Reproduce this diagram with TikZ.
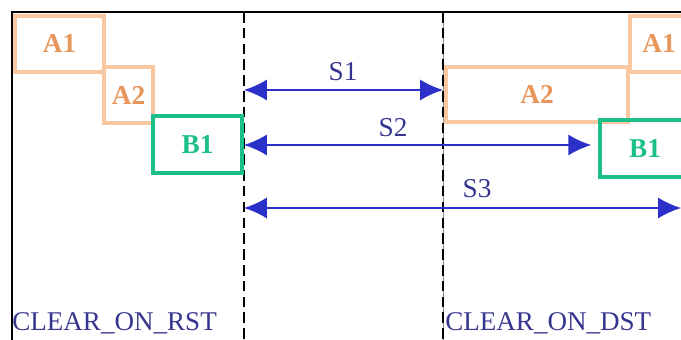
\documentclass[tikz,border=0pt]{standalone}
\usepackage{fontspec}
\setmainfont{Liberation Serif}
\usetikzlibrary{arrows.meta}

\definecolor{peach}{HTML}{F9C8A0}
\definecolor{peachtext}{HTML}{E8955A}
\definecolor{regreen}{HTML}{1CBF8C}
\definecolor{arrowblue}{HTML}{2B30C8}
\definecolor{labelblue}{HTML}{35358F}

\begin{document}
\begin{tikzpicture}[x = 0.02cm, y = -0.02cm,
  abox/.style = {draw = peach, line width = 2pt, text = peachtext,
    font = \bfseries\fontsize{15.5}{16}\selectfont, inner sep = 0pt, minimum height = 1.12cm},
  bbox/.style = {abox, draw = regreen, text = regreen, minimum height = 1.14cm},
  sarrow/.style = {arrowblue, line width = 1pt,
    {Latex[length = 13pt, width = 12pt]}-{Latex[length = 13pt, width = 12pt]}},
  slabel/.style = {text = labelblue, font = \fontsize{15.5}{16}\selectfont, inner sep = 0pt},
  clrlabel/.style = {text = labelblue, font = \fontsize{15.4}{16}\selectfont, inner sep = 0pt,
    anchor = base west},
  border/.style = {line width = 1pt, dash pattern = on 6pt off 3pt}]
\useasboundingbox (0, 0) rectangle (681, 340);
\clip (0, 0) rectangle (681, 340);

% frame and the two time marks
\draw [line width = 1.1pt] (12, 340) -- (12, 12) -- (681, 12);
\draw [border] (244, 12) -- (244, 340);
\draw [line width = 0.4pt, black!45] (443, 12) -- (443, 340);
\draw [border, line width = 1.5pt] (443, 12) -- (443, 340);

% registers before the reset
\node [abox, minimum width = 1.78cm] (a1l) at (59.5, 44) {A1};
\node [abox, minimum width = 0.98cm] (a2l) at (128.5, 95) {A2};
\node [bbox, minimum width = 1.78cm] (b1l) at (197.5, 144.5) {B1};

% registers after the reset
\node [abox, minimum width = 3.64cm, minimum height = 1.1cm] (a2r) at (537, 94.5) {A2};
\node [abox, minimum width = 1.16cm] (a1r) at (659, 44) {A1};
\node [bbox, minimum width = 1.8cm] (b1r) at (645, 148.5) {B1};

% spans
\coordinate (r1) at (244, 90);
\coordinate (d1) at (443, 90);
\coordinate (r2) at (244, 145);
\coordinate (r3) at (244, 208);
\coordinate (e3) at (681, 208);
\draw [sarrow] (r1) -- (d1);
\draw [sarrow, shorten > = 4pt] (r2) -- (r2 -| b1r.west);
\draw [sarrow] (r3) -- (e3);
\node [slabel] (s1) at (343, 72) {S1};
\node [slabel] (s2) at (393, 128) {S2};
\node [slabel] (s3) at (477, 189) {S3};

\node [clrlabel] (rst) at (12, 331) {CLEAR\_ON\_RST};
\node [clrlabel] (dst) at (445, 331) {CLEAR\_ON\_DST};
\end{tikzpicture}
\end{document}
